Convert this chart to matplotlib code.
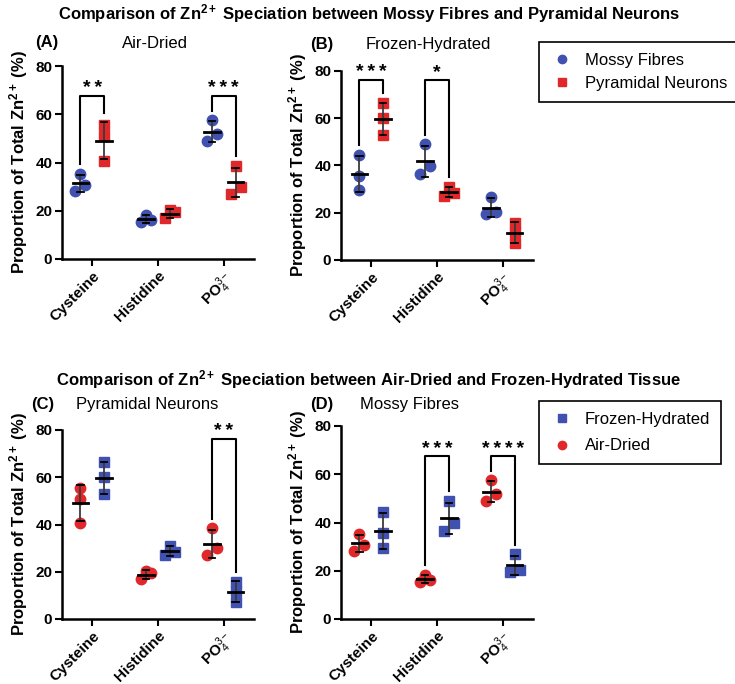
import numpy as np
import matplotlib
matplotlib.use('Agg')
import matplotlib.pyplot as plt
from matplotlib.lines import Line2D

plt.rcParams['font.family'] = ['Liberation Sans', 'DejaVu Sans']
plt.rcParams['mathtext.fontset'] = 'custom'
plt.rcParams['mathtext.rm'] = 'Liberation Sans'
plt.rcParams['mathtext.bf'] = 'Liberation Sans:bold'
plt.rcParams['mathtext.it'] = 'Liberation Sans:italic'

# ---- data (proportion of total Zn2+, %) ----
categories = ['Cysteine', 'Histidine', 'PO$_4^{3-}$']

mf_air = [[35.2, 30.8, 28.0], [18.3, 16.0, 15.2], [57.5, 52.0, 49.0]]
pn_air = [[55.5, 51.0, 40.5], [20.3, 19.3, 16.8], [38.5, 30.0, 27.0]]
mf_frozen = [[44.5, 35.5, 29.5], [49.0, 39.7, 36.6], [26.8, 20.4, 19.4]]
pn_frozen = [[66.5, 60.0, 53.0], [31.0, 28.5, 27.0], [15.8, 12.0, 7.0]]

# significance: (category index, stars, bracket level)
sig_a = [(0, '**', 67.6), (2, '***', 67.6)]
sig_b = [(0, '***', 76.4), (1, '*', 76.4)]
sig_c = [(2, '**', 76.2)]
sig_d = [(1, '***', 67.4), (2, '****', 67.4)]

BLUE = '#4051B0'
RED = '#E0282B'
W, H = 735, 684


def fx(x):
    return x / W


def fy(y):
    return 1 - y / H


def swarm(vals, thr=3.5, step=0.075):
    # group values that sit close together and spread them sideways
    order = np.argsort(vals)[::-1]
    offs = np.zeros(len(vals))
    clusters = [[order[0]]]
    for i in order[1:]:
        if vals[clusters[-1][-1]] - vals[i] < thr:
            clusters[-1].append(i)
        else:
            clusters.append([i])
    for c in clusters:
        if len(c) == 2:
            pat = [step, -step]
        elif len(c) == 3:
            pat = [0, step, -step]
        else:
            pat = [0]
        for k, i in enumerate(c):
            offs[i] = pat[k]
    return offs


def draw_group(ax, x, vals, color, marker):
    vals = np.array(vals)
    xs = x + swarm(vals)
    ax.plot(xs, vals, ls='none', marker=marker, ms=7.5, color=color,
            mec=color, zorder=3, clip_on=False)
    m = vals.mean()
    sd = vals.std(ddof=1)
    ax.plot([x, x], [m - sd, m + sd], color='#3a3a3a', lw=1.3, zorder=4)
    for yv in (m - sd, m + sd):
        ax.plot([x - 0.05, x + 0.05], [yv, yv], color='black', lw=1.3, zorder=4)
    ax.plot([x - 0.12, x + 0.12], [m, m], color='black', lw=2, zorder=5)


def panel(rect, left, right, lstyle, rstyle, sig):
    ax = fig.add_axes(rect)
    d = 0.18
    for i in range(len(categories)):
        draw_group(ax, i - d, left[i], *lstyle)
        draw_group(ax, i + d, right[i], *rstyle)
    for i, stars, top in sig:
        l = max(max(left[i]), np.mean(left[i]) + np.std(left[i], ddof=1)) + 4
        r = max(max(right[i]), np.mean(right[i]) + np.std(right[i], ddof=1)) + 4
        ax.plot([i - d, i - d, i + d, i + d], [l, top, top, r], color='black',
                lw=1.5, clip_on=False, zorder=6)
        ax.text(i, top + 1.2, '\u2009'.join(stars), ha='center', va='baseline',
                fontsize=14, fontweight='bold')
    ax.set_xlim(-0.46, 2.46)
    ax.set_ylim(0, 80)
    ax.set_yticks([0, 20, 40, 60, 80])
    ax.set_xticks(range(len(categories)))
    ax.set_xticklabels(categories, rotation=45, ha='right', rotation_mode='anchor',
                       fontsize=11, fontweight='bold')
    for t in ax.get_yticklabels():
        t.set_fontweight('bold')
        t.set_fontsize(11)
    for s in ['top', 'right']:
        ax.spines[s].set_visible(False)
    for s in ['left', 'bottom']:
        ax.spines[s].set_linewidth(1.8)
    ax.tick_params(width=1.5, length=5, pad=2)
    ax.set_ylabel('Proportion of Total Zn$^{\\mathbf{2+}}$ (%)', fontsize=12,
                  fontweight='bold', labelpad=4)
    return ax


fig = plt.figure(figsize=(W / 100, H / 100), dpi=100)

mf = (BLUE, 'o')
pn = (RED, 's')
ad = (RED, 'o')
fh = (BLUE, 's')

aw = 192 / W
panel([fx(62), fy(259), aw, 193 / H], mf_air, pn_air, mf, pn, sig_a)
panel([fx(341), fy(260), aw, 189 / H], mf_frozen, pn_frozen, mf, pn, sig_b)
panel([fx(62), fy(619), aw, 189 / H], pn_air, pn_frozen, ad, fh, sig_c)
panel([fx(341), fy(619), aw, 193 / H], mf_air, mf_frozen, ad, fh, sig_d)

fig.text(fx(369), fy(14), 'Comparison of Zn$^{\\mathbf{2+}}$ Speciation between Mossy Fibres and Pyramidal Neurons',
         ha='center', va='center', fontsize=12, fontweight='bold')
fig.text(fx(369), fy(380), 'Comparison of Zn$^{\\mathbf{2+}}$ Speciation between Air-Dried and Frozen-Hydrated Tissue',
         ha='center', va='center', fontsize=12, fontweight='bold')

for lab, title, x0, xt, y in [('(A)', 'Air-Dried', 47, 155, 43),
                              ('(B)', 'Frozen-Hydrated', 322, 428, 45),
                              ('(C)', 'Pyramidal Neurons', 43, 147, 404),
                              ('(D)', 'Mossy Fibres', 322, 410, 404)]:
    fig.text(fx(x0), fy(y), lab, ha='center', va='center', fontsize=12, fontweight='bold')
    fig.text(fx(xt), fy(y), title, ha='center', va='center', fontsize=12)

h1 = [Line2D([], [], ls='none', marker='o', ms=6, color=BLUE),
      Line2D([], [], ls='none', marker='s', ms=6, color=RED)]
leg1 = fig.legend(h1, ['Mossy Fibres', 'Pyramidal Neurons'], loc='upper left',
                  bbox_to_anchor=(fx(539), fy(42)), fontsize=12, fancybox=False,
                  edgecolor='black', framealpha=1, handletextpad=0.7, borderpad=0.65,
                  labelspacing=0.5, handlelength=1.4, borderaxespad=0)
leg1.get_frame().set_linewidth(1.2)

h2 = [Line2D([], [], ls='none', marker='s', ms=6, color=BLUE),
      Line2D([], [], ls='none', marker='o', ms=6, color=RED)]
leg2 = fig.legend(h2, ['Frozen-Hydrated', 'Air-Dried'], loc='upper left',
                  bbox_to_anchor=(fx(539), fy(401)), fontsize=12, fancybox=False,
                  edgecolor='black', framealpha=1, handletextpad=0.7, borderpad=0.65,
                  labelspacing=0.7, handlelength=1.4, borderaxespad=0)
leg2.get_frame().set_linewidth(1.2)

fig.savefig('out.png', dpi=100)
